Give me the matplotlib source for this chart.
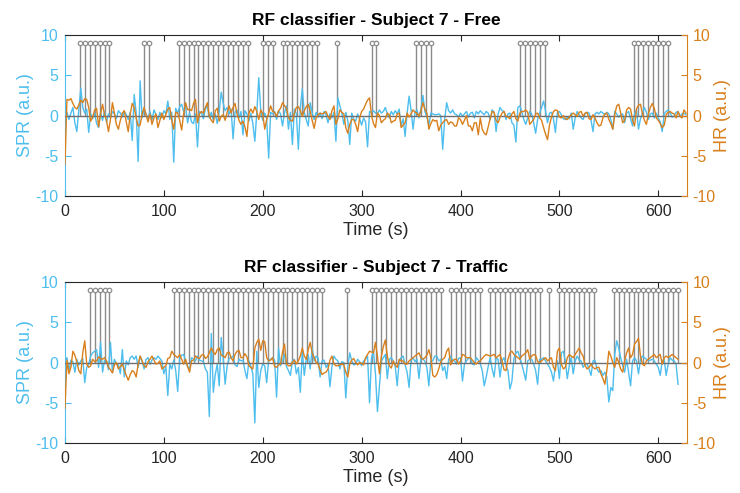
import numpy as np
import matplotlib
matplotlib.use("Agg")
import matplotlib.pyplot as plt

plt.rcParams['font.family'] = ['Liberation Sans', 'DejaVu Sans']
plt.rcParams['axes.unicode_minus'] = False

STEP = 2  # seconds between the samples

# ---- Free driving ----
spr_free = [
    0.0, 0.4, -0.5, 0.3, 1.0, -0.9, -2.0, 0.7, 3.4, 1.0,
    0.3, 0.8, -2.1, 0.2, -0.4, 0.3, -1.0, -1.5, 0.4, -0.6,
    0.5, -0.8, 0.2, -0.3, 0.5, 0.2, -0.4, 0.6, 0.3, -0.2,
    0.5, 0.1, -0.5, 0.4, -3.1, 2.6, 0.4, -5.7, 4.3, -0.3,
    0.8, 0.2, -0.4, 0.5, -0.6, 0.7, 0.1, -0.5, 0.4, -0.3,
    0.6, 0.2, 1.8, -0.5, 0.4, -5.8, 0.9, 0.3, 1.1, 1.4,
    0.5, 1.2, -0.9, 0.3, -0.8, -1.0, 0.2, -3.9, 0.5, 0.3,
    -0.4, 0.8, 1.2, -0.3, 0.4, -0.6, 0.2, -1.0, 0.5, 2.9,
    1.5, 0.6, 1.0, 0.2, 0.8, -2.9, 0.4, 0.7, -0.3, 0.5,
    -2.4, 0.6, 0.2, -0.7, 0.3, -1.0, -3.2, 0.4, 4.7, 0.5,
    -0.6, 0.3, -0.4, -5.3, 0.4, 0.2, 0.5, -0.5, 0.6, 0.2,
    -1.3, 0.3, 1.2, -1.7, 0.4, -3.6, 0.8, 0.2, -4.2, 1.0,
    3.3, 0.4, -0.5, -1.3, 1.6, 0.3, -0.5, 0.4, -0.2, 0.3,
    -0.4, 0.5, 0.1, -0.9, 0.2, -0.3, 0.4, -3.2, 2.2, 1.2,
    0.3, -1.1, 0.4, -0.6, -3.6, 0.3, -0.5, -0.7, 0.2, -0.4,
    -1.2, -0.3, -0.8, -3.9, 0.5, 0.4, 0.6, 0.3, 0.2, 0.7,
    0.3, 0.5, 1.0, 0.2, -0.3, 0.5, 0.1, 0.6, 0.2, 0.8,
    -1.3, -0.4, -2.6, 0.3, 2.4, 0.7, -1.7, 0.4, 0.7, -0.3,
    0.8, 2.5, 0.5, -0.2, -1.2, 0.3, 0.2, 0.1, 0.1, 0.2,
    0.0, -4.2, -0.5, 1.6, 0.6, 0.3, 0.7, 0.2, 0.1, -0.2,
    0.3, -0.1, 0.2, 0.5, -0.2, 0.3, 0.4, -0.3, 0.5, 0.2,
    0.6, 0.3, 0.1, 0.5, 0.3, -0.5, 0.7, 0.4, -2.0, 0.2,
    1.0, 0.6, 0.5, -0.5, 0.2, 0.3, -0.9, -1.2, -3.3, 1.0,
    1.2, 0.5, -0.5, -1.1, -0.3, 0.5, 0.2, -0.9, -2.2, -0.5,
    0.3, 1.0, 1.8, 0.6, -0.9, 0.3, 0.4, -0.4, -2.1, 0.4,
    0.5, 0.1, -0.4, -0.5, -0.2, -0.4, 0.3, -1.7, -0.3, 0.5,
    0.1, -0.3, -0.5, 0.2, 0.4, 0.3, -0.6, -2.0, 0.2, 0.4,
    0.2, 0.5, 0.3, 0.1, 0.4, 0.2, -0.5, -1.7, 0.5, 0.2,
    -0.2, 0.1, 0.2, -0.9, 0.3, 0.5, -0.4, -1.3, 0.2, 0.7,
    -1.7, -0.4, 0.3, 1.0, 0.4, -0.5, 0.2, 0.3, -0.3, 0.3,
    -0.3, -0.8, -2.0, 0.2, 0.5, 0.7, 0.3, -0.2, -0.1, 0.4,
    0.5, -0.1, 0.2, 0.3, 0.1,
]
hr_free = [
    -6.1, 2.0, 1.9, 2.1, 1.5, 1.0, 0.8, 1.3, 1.9, 1.6,
    2.1, 2.0, 1.0, -0.7, -0.2, 0.7, 0.9, -1.4, 0.2, 1.4,
    0.1, -0.6, -2.0, -0.5, 1.6, 0.3, -1.1, -1.7, -0.6, 0.3,
    0.6, -0.8, -2.0, 0.2, 1.5, 1.0, -0.3, -1.3, -1.2, 0.2,
    1.0, 0.1, -0.8, 0.2, -1.1, -0.3, 0.2, -1.5, -0.6, 0.3,
    -0.5, 0.1, 0.8, 1.0, -0.6, -1.7, 0.4, 0.3, -0.6, -1.8,
    0.2, 1.6, 0.7, 0.8, 0.6, 1.5, 2.0, -0.9, 0.2, 0.5,
    0.3, 1.0, 1.6, -0.1, -0.6, -0.9, 0.6, 0.9, -0.7, -0.1,
    0.1, -0.6, 0.4, 1.2, 0.3, 1.0, 1.5, 0.2, -0.6, -1.1,
    -0.7, -1.4, -2.6, 0.3, 0.8, 0.3, 1.1, 0.5, -0.5, 0.7,
    0.2, -1.7, -0.5, 0.3, 1.2, 0.5, 0.4, -0.1, 0.6, 0.9,
    1.6, 1.2, 0.9, -0.3, -0.6, -0.7, 0.3, 1.0, 1.1, 0.6,
    -0.1, 0.6, 1.1, 1.4, 0.5, -0.6, -1.6, -0.3, 0.1, 0.3,
    0.2, 0.3, 0.5, -0.1, -0.5, 0.6, 1.2, -1.1, -0.4, 0.7,
    0.4, 0.2, -1.5, -2.2, -1.1, -0.5, -0.5, -1.1, -2.0, -0.3,
    0.5, 0.8, 1.4, 1.9, 2.2, 0.0, -1.0, -1.5, 0.3, 0.0,
    -0.9, -0.6, -0.4, 0.3, 0.1, -0.9, -0.7, -0.6, 0.2, 0.3,
    -1.5, -1.2, -0.9, 0.3, -0.2, 0.2, 0.7, 0.4, 0.3, -0.1,
    0.6, 1.6, 0.8, 0.3, -1.7, -1.0, -0.5, -0.7, -0.6, -1.9,
    -1.2, -0.9, -0.6, -0.5, -1.1, -0.8, -0.9, -1.3, -1.3, -0.3,
    -0.5, -1.1, -0.6, 0.0, -1.3, -1.3, -1.9, -0.9, -0.9, -2.4,
    -0.3, -1.7, -2.2, -2.4, -1.4, -0.4, 0.5, 0.4, -0.6, -0.9,
    -0.2, 0.3, 0.5, -0.1, -0.2, -0.4, 0.2, 0.5, -0.4, -0.7,
    0.3, 0.5, 0.5, 0.7, 0.4, -1.1, -0.8, -0.5, 0.2, 0.3,
    -0.3, -0.6, -1.5, -2.3, -3.0, -1.2, -0.2, 0.5, 0.7, 0.6,
    -0.2, -0.3, 0.0, -0.4, -0.5, -0.2, 0.1, 0.3, 0.1, -0.1,
    0.4, 0.5, -0.1, 0.3, 0.4, -0.4, -0.5, 0.1, -0.3, -0.9,
    -1.3, -1.2, -0.3, 0.2, 0.3, -0.5, -1.0, -1.7, 0.1, 1.2,
    1.4, 0.3, -0.9, -0.6, 0.7, 1.0, 0.8, -0.6, -1.3, 0.8,
    1.3, 1.4, 0.2, -0.6, -1.1, 0.2, 1.0, 1.5, 0.9, -0.3,
    -0.6, -1.0, -1.5, -1.2, 0.1, 0.4, 0.5, 0.3, 0.2, -0.3,
    0.5, -0.1, -0.3, 0.7, 0.3,
]
stems_free = [15, 20, 25, 30, 35, 40, 45, 80, 85,
              115, 120, 125, 130, 135, 140, 145, 150, 155, 160, 165, 170, 175, 180, 185,
              200, 205, 210, 220, 225, 230, 235, 240, 245, 250, 255,
              275, 310, 315, 355, 360, 365, 370,
              460, 465, 470, 475, 480, 485,
              575, 580, 585, 590, 595, 600, 605, 610]

# ---- Traffic ----
spr_traffic = [
    0.2, 0.6, -1.0, 0.3, 0.1, -1.2, 0.4, -0.3, 0.2, 0.5,
    -2.5, -0.6, -0.2, 0.8, 1.2, 1.4, 1.6, -0.6, 2.5, -1.2,
    0.3, 0.2, -0.9, 2.5, -1.2, 0.4, -0.2, -0.3, -1.4, 1.6,
    -1.8, 0.2, -0.3, 0.6, 0.8, 0.4, 0.8, -0.6, 0.8, 0.2,
    -0.8, 0.4, 0.6, -0.2, 0.3, 0.6, 0.4, 0.8, 0.5, 0.2,
    -1.4, -0.5, -4.1, -0.2, -0.8, 0.3, -1.0, -3.6, 0.6, 0.9,
    1.0, 0.2, -0.5, -0.8, 0.6, 0.4, 0.2, 0.8, 0.3, 0.2,
    0.1, -0.8, -1.2, -6.7, 3.6, -3.7, -1.5, -0.2, -2.9, 3.1,
    0.5, -2.7, -0.4, 0.5, 0.6, 0.8, -0.3, -0.5, 0.4, 0.2,
    0.3, -1.0, -2.0, 0.2, -0.5, -1.4, -7.5, 1.4, -3.1, -1.0,
    -0.2, -0.4, -2.5, 0.3, 0.4, 0.6, 0.3, -4.3, 1.8, -0.4,
    0.2, 1.0, -0.5, -1.0, -1.6, 0.2, 0.4, -1.4, -0.6, -3.7,
    1.4, -1.6, 0.4, 1.0, -0.8, 1.8, 0.2, 0.8, 0.6, -1.8,
    0.2, 0.3, -0.6, -0.2, -3.0, -0.5, 0.8, 0.4, 0.2, -0.8,
    0.1, 0.0, -4.4, -0.6, 1.2, 0.2, -0.3, -0.2, 0.4, 0.1,
    -0.4, 0.2, 0.4, 0.8, -5.0, 0.6, 1.4, -1.4, -6.1, -2.9,
    0.2, 0.6, 1.0, -2.0, 0.4, 0.6, 0.2, -0.5, -2.9, 0.2,
    0.6, 0.8, -0.3, -1.2, -3.1, 0.3, 0.6, 0.1, 0.4, -2.0,
    0.6, 0.5, 0.1, -0.6, -2.9, 0.2, 0.2, 0.8, 0.8, 0.2,
    0.4, -1.0, -0.5, -2.0, 0.4, 0.8, 0.3, 0.2, -0.2, 0.5,
    0.6, -2.3, -0.2, 0.2, 0.5, 0.6, -0.2, -0.3, 0.6, 0.3,
    -0.2, -1.0, -2.9, -1.8, -0.5, 0.6, -0.8, -1.8, 0.6, 0.4,
    -1.8, 0.2, 0.6, -0.4, -1.0, -3.3, -2.3, 0.5, 1.2, 1.4,
    0.6, -0.2, -1.2, -2.2, 0.2, 0.4, 0.4, -0.2, -1.0, -2.7,
    0.4, 0.4, 0.6, 0.2, -0.2, -0.6, -1.2, -2.3, -0.4, 0.2,
    -2.0, 1.2, 1.4, 0.2, -2.0, -0.4, 0.6, -1.4, 0.2, 0.8,
    0.3, 0.2, -0.6, -0.2, -0.2, -0.8, -1.6, 0.2, 0.3, -0.8,
    -1.2, -1.0, -1.6, -1.2, -1.8, -4.9, -3.1, -3.5, 1.0, 2.7,
    1.8, 0.6, -0.4, -1.2, 0.4, -1.2, -2.9, 0.2, 0.6, 0.2,
    -1.4, 0.4, 0.8, 0.6, 0.4, 0.2, 0.3, 0.4, 0.2, -0.2,
    -0.6, -1.6, 0.2, 0.4, -1.6, -0.2, 0.6, 0.3, 0.2, -0.2,
    -2.7,
]
hr_traffic = [
    -5.7, 0.3, -1.4, -0.6, 1.4, 0.9, 0.1, -1.0, -1.4, 1.2,
    2.7, -0.2, -0.6, -0.4, 0.4, 0.1, 0.2, 0.7, 0.5, 0.4,
    0.6, 0.2, -0.6, -0.9, -1.3, -0.3, 0.0, -0.8, -0.5, -0.2,
    -0.9, -1.6, -2.2, -1.5, -1.0, -1.2, -1.8, -0.2, 0.8, 0.2,
    -0.4, -0.6, 0.1, 0.4, 0.8, 0.3, -0.2, -0.1, 0.2, -0.8,
    -0.6, -0.4, 0.5, 0.6, 1.4, 1.0, 0.8, 0.6, 1.0, 0.4,
    -0.2, 0.4, -0.5, -1.2, 0.2, 0.3, 0.8, 0.6, 0.5, 0.9,
    1.0, 0.5, 0.7, 1.2, 1.8, 1.3, 1.0, 1.6, 1.8, 0.9,
    0.8, 0.6, 1.2, 1.3, 0.6, 0.2, 1.0, 1.4, 1.5, 0.6,
    0.6, 1.1, 0.7, -0.4, -0.6, -0.8, 1.8, 2.5, 2.9, 1.5,
    2.7, 2.6, 0.6, 0.2, 0.3, 0.6, -0.5, -0.6, -0.3, -0.2,
    1.3, 2.3, -0.2, -0.4, -0.4, 0.0, 0.3, -0.2, 0.2, 0.8,
    1.8, 0.8, 0.4, 1.6, 2.5, 1.2, 0.6, 0.0, -0.2, -0.9,
    -1.5, -1.3, -1.2, -0.8, 0.3, 0.8, -0.2, -0.4, -0.4, -0.3,
    -0.2, -0.3, -1.2, -1.8, -0.2, 0.3, 0.5, 0.0, -0.3, 0.0,
    -0.1, -0.3, 0.6, 1.0, 1.4, 1.3, 1.2, 2.5, 0.8, -1.4,
    0.8, 2.0, 2.8, 0.8, -0.4, -0.7, 0.2, -0.3, -0.6, 0.4,
    0.2, 0.2, -0.2, -0.2, 0.2, 0.4, 0.6, 0.8, 1.0, 1.2,
    0.6, 0.4, 0.6, 0.9, 1.6, 0.6, -1.6, -1.8, -1.5, -0.8,
    0.1, 0.4, 0.6, 1.4, 1.8, -0.3, 0.2, 0.4, 0.4, -0.2,
    0.2, 1.0, 0.9, 0.6, 0.6, 0.6, 0.3, 0.0, -0.2, 0.1,
    0.2, 0.5, 0.8, 1.0, 0.9, 0.8, 0.9, 1.0, 0.6, 0.8,
    1.0, 0.2, -0.9, -1.0, 0.4, 1.2, 1.4, 1.0, 0.8, 0.6,
    0.4, 0.8, 1.0, 1.2, 1.6, 0.4, 0.8, 1.0, 0.9, 0.1,
    0.0, 0.2, 0.4, 0.6, 0.2, 0.4, 0.6, -0.6, -1.0, 1.4,
    1.8, -0.2, -0.8, -0.6, 0.6, 1.0, 0.8, 0.6, 1.0, 1.4,
    1.8, 1.2, 0.8, -0.4, -0.8, -0.6, -0.2, -0.6, -0.8, -0.6,
    -0.6, -1.4, -2.0, -2.7, -1.0, 1.4, 0.8, 0.0, -0.6, 0.6,
    0.0, -0.8, -1.2, 0.2, 1.2, 1.8, 0.6, 1.0, 2.3, 2.6,
    3.0, 0.8, -0.2, -0.4, 0.2, 0.4, 0.6, 0.8, 1.0, 0.6,
    0.8, 1.0, -0.2, 0.6, 0.8, 0.6, 0.8, 1.0, 0.8, 0.6,
    0.4,
]
stems_traffic = [25, 30, 35, 40, 45,
                 110, 115, 120, 125, 130, 135, 140, 145, 150, 155, 160, 165, 170, 175, 180, 185,
                 190, 195, 200, 205, 210, 215, 220, 225, 230, 235, 240, 245, 250, 255, 260,
                 285,
                 310, 315, 320, 325, 330, 335, 340, 345, 350, 355, 360, 365, 370, 375, 380,
                 390, 395, 400, 405, 410, 415, 420,
                 430, 435, 440, 445, 450, 455, 460, 465, 470, 475, 480,
                 490,
                 500, 505, 510, 515, 520, 525, 530, 535,
                 555, 560, 565, 570, 575, 580, 585, 590, 595, 600, 605, 610, 615, 620]
stem_level = 9

titles = ["RF classifier - Subject 7 - Free", "RF classifier - Subject 7 - Traffic"]

BLUE = '#4DBEEE'
ORANGE = '#D9801C'
DARK = '#262626'
STEM = '#8c8c8c'


def draw_panel(ax, spr, hr, stems, title):
    t_spr = np.arange(len(spr)) * STEP
    t_hr = np.arange(len(hr)) * STEP

    ax.vlines(stems, 0, stem_level, colors=STEM, lw=1.0, zorder=1)
    ax.plot(stems, [stem_level] * len(stems), 'o', ms=3.2, mfc='white',
            mec=STEM, mew=0.9, zorder=2)
    ax.plot(t_spr, spr, color=BLUE, lw=1.0, zorder=3)
    ax.axhline(0, color='#6e6e6e', lw=1.0, zorder=4)

    ax.set_xlim(0, 629)
    ax.set_ylim(-10, 10)
    ax.set_xticks([0, 100, 200, 300, 400, 500, 600])
    ax.set_yticks([-10, -5, 0, 5, 10])
    ax.set_xlabel("Time (s)", fontsize=13, color=DARK, labelpad=2)
    ax.set_ylabel("SPR (a.u.)", fontsize=13, color=BLUE, labelpad=1)
    ax.set_title(title, fontsize=12.5, fontweight='bold', color='black', pad=7)

    ax.tick_params(axis='x', direction='in', top=True, length=4, labelsize=11.5,
                   colors=DARK, pad=6)
    ax.tick_params(axis='y', direction='in', length=4, labelsize=11.5,
                   colors=BLUE, pad=5)
    ax.spines['left'].set_color(BLUE)
    ax.spines['right'].set_visible(False)
    ax.spines['top'].set_color(DARK)
    ax.spines['bottom'].set_color(DARK)
    for s in ax.spines.values():
        s.set_linewidth(0.8)

    ax2 = ax.twinx()
    ax2.plot(t_hr, hr, color=ORANGE, lw=1.0)
    ax2.set_ylim(-10, 10)
    ax2.set_yticks([-10, -5, 0, 5, 10])
    ax2.set_ylabel("HR (a.u.)", fontsize=13, color=ORANGE, labelpad=-1)
    ax2.tick_params(axis='y', direction='in', length=4, labelsize=11.5,
                    colors=ORANGE, pad=4)
    ax2.spines['right'].set_color(ORANGE)
    ax2.spines['right'].set_linewidth(0.8)
    for side in ('left', 'top', 'bottom'):
        ax2.spines[side].set_visible(False)


fig = plt.figure(figsize=(7.4, 4.93), dpi=100)
ax_top = fig.add_axes([0.0878, 0.6024, 0.8405, 0.3266])
ax_bot = fig.add_axes([0.0878, 0.1014, 0.8405, 0.3266])

draw_panel(ax_top, spr_free, hr_free, stems_free, titles[0])
draw_panel(ax_bot, spr_traffic, hr_traffic, stems_traffic, titles[1])

fig.savefig("out.png", dpi=100)
